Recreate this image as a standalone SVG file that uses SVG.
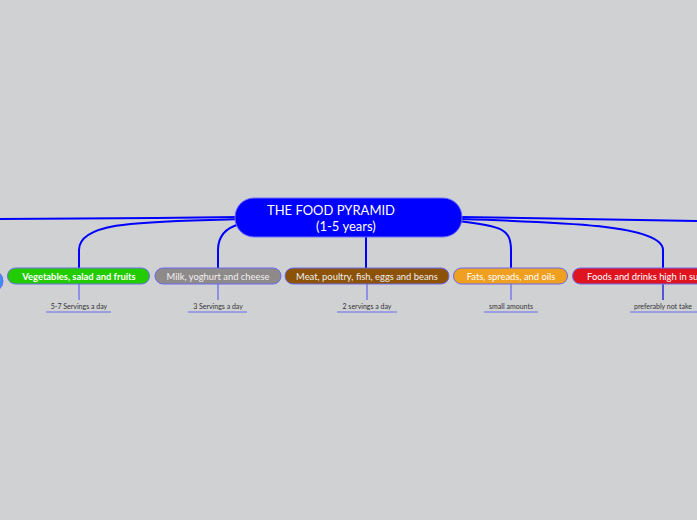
<svg xmlns="http://www.w3.org/2000/svg" width="697" height="520" viewBox="0 0 697 520">
<style>
.conn{fill:none;stroke:#0000ff;stroke-width:2}
.sub{fill:none;stroke:#6464f0;stroke-width:1.2}
.ul{fill:none;stroke:#6a6af0;stroke-width:1}
.node{stroke:#6a6af0;stroke-width:1}
.lbl{font-family:Lato,"Open Sans",sans-serif;font-size:9.4px;text-anchor:middle}
.st{font-family:Lato,"Open Sans",sans-serif;font-size:7px;fill:#333;text-anchor:middle}
</style>
<rect width="697" height="520" fill="#d0d1d3"/>
<g id="connectors">
<path class="conn" d="M240,217 C160,218 60,219 0,219"/>
<path class="conn" d="M240,219 C150,222 79,220 79,250 L79,268"/>
<path class="conn" d="M240,224 C225,228 218,236 218,250 L218,268"/>
<path class="conn" d="M366,237 L366,268"/>
<path class="conn" d="M458,221 C500,226 511,228 511,250 L511,268"/>
<path class="conn" d="M460,219 C560,222 663,225 663,250 L663,268"/>
<path class="conn" d="M460,217 C560,218 640,220 697,221"/>
<path class="sub" d="M79,284 V300"/>
<path class="sub" d="M218,284 V300"/>
<path class="sub" d="M367,284 V300"/>
<path class="sub" d="M511,284 V300"/>
<path d="M663,284 V300" fill="none" stroke="#0000dd" stroke-width="1.2"/>
<path class="ul" d="M46,312 H111"/>
<path class="ul" d="M188,312 H247"/>
<path class="ul" d="M337,312 H397"/>
<path class="ul" d="M484,312 H538"/>
<path class="ul" d="M630,312 H697"/>
</g>
<g id="center">
<rect x="235" y="198" width="227" height="39" rx="19" fill="#0000ff" stroke="#7070ff" stroke-width="1"/>
<text x="267" y="215" font-family="Lato,'Open Sans',sans-serif" font-size="13px" fill="#fff">THE FOOD PYRAMID</text>
<text x="316" y="231" font-family="Lato,'Open Sans',sans-serif" font-size="13px" fill="#fff">(1-5 years)</text>
</g>
<g id="left-node">
<rect x="-60" y="270" width="63" height="22" rx="11" fill="#3a8cff" stroke="#6a6af0"/>
</g>
<g id="veg">
<rect class="node" x="7.5" y="268" width="142" height="16" rx="8" fill="#22cc00"/>
<text class="lbl" x="79" y="279.5" fill="#fff" font-weight="bold">Vegetables, salad and fruits</text>
<text class="st" x="79" y="309">5-7 Servings a day</text>
</g>
<g id="milk">
<rect class="node" x="155" y="268" width="126" height="16" rx="8" fill="#8f8a8a"/>
<text class="lbl" x="218" y="279.5" fill="#f0f0f0">Milk, yoghurt and cheese</text>
<text class="st" x="218" y="309">3 Servings a day</text>
</g>
<g id="meat">
<rect class="node" x="285" y="268" width="164" height="16" rx="8" fill="#8b5208"/>
<text class="lbl" x="367" y="279.5" fill="#f0f0f0">Meat, poultry, fish, eggs and beans</text>
<text class="st" x="367" y="309">2 servings a day</text>
</g>
<g id="fats">
<rect class="node" x="453.5" y="268" width="114" height="16" rx="8" fill="#f0a020"/>
<text class="lbl" x="511" y="279.5" fill="#fff">Fats, spreads, and oils</text>
<text class="st" x="511" y="309">small amounts</text>
</g>
<g id="sugar">
<rect class="node" x="572.5" y="268" width="180" height="16" rx="8" fill="#e0141e"/>
<text x="587" y="279.5" font-family="Lato,'Open Sans',sans-serif" font-size="9.4px" fill="#fff">Foods and drinks high in sugar</text>
<text class="st" x="663" y="309">preferably not take</text>
</g>
</svg>
